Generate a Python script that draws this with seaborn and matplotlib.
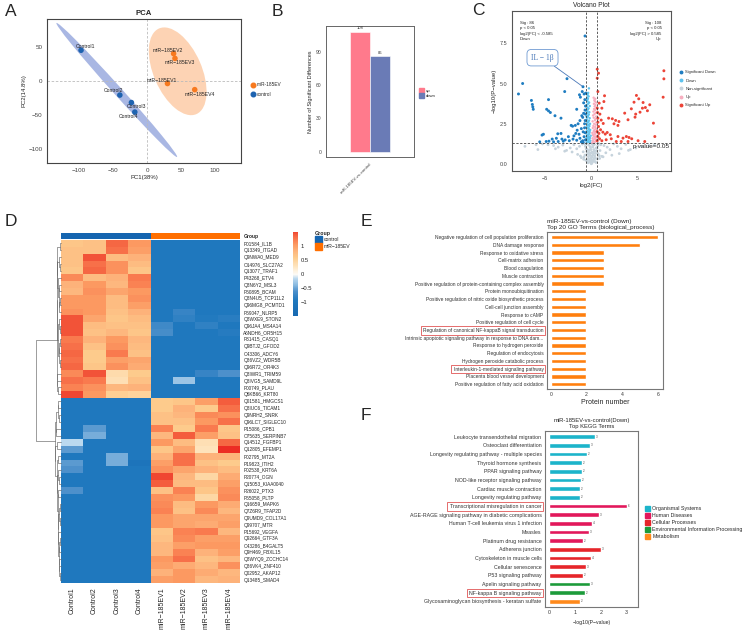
import numpy as np
import pandas as pd
import matplotlib
matplotlib.use('Agg')
import matplotlib.pyplot as plt
import seaborn as sns
from matplotlib.colors import LinearSegmentedColormap, ListedColormap
from matplotlib.patches import Ellipse, Patch, Rectangle
from matplotlib.lines import Line2D

sns.set_style('white')
plt.rcParams['font.family'] = ['Liberation Sans', 'DejaVu Sans']
plt.rcParams['axes.unicode_minus'] = True

# ---------------- DATA ----------------
# A: PCA
pca_samples = ['Control1', 'Control2', 'Control3', 'Control4',
               'miR−185EV1', 'miR−185EV2', 'miR−185EV3', 'miR−185EV4']
pca_group = ['control'] * 4 + ['miR-185EV'] * 4
pc1 = [-97, -40, -23, -18, 30, 39, 41, 70]
pc2 = [45, -21, -32, -46, -4, 40, 33, -13]

# B: number of significant differences
b_comparison = ['miR-185EV-vs-control', 'miR-185EV-vs-control']
b_type = ['up', 'down']
b_count = [108, 86]

# C: volcano
sig_down_pts = [(-0.70, 7.95), (-7.45, 5.00), (-7.90, 4.35), (-2.65, 5.30), (-2.90, 4.50),
                (-6.50, 3.95), (-6.40, 3.70), (-6.35, 3.55), (-6.30, 3.40), (-4.65, 4.00),
                (-4.85, 3.40), (-4.65, 3.30), (-4.45, 3.20), (-3.95, 3.00), (-3.30, 2.85),
                (-1.00, 4.50), (-1.30, 4.30), (-1.20, 4.15), (-0.80, 4.35),
                (-1.60, 3.40), (-2.20, 2.40), (-2.05, 2.35), (-1.75, 2.40), (-1.45, 2.50),
                (-1.25, 2.70), (-0.95, 2.90), (-0.85, 3.15), (-0.75, 2.50), (-1.10, 2.20),
                (-0.90, 2.00), (-1.55, 2.10), (-1.70, 1.90), (-1.35, 1.85), (-5.20, 1.85),
                (-5.35, 1.80), (-3.65, 1.88), (-3.30, 1.90), (-4.25, 1.55), (-3.80, 1.60),
                (-3.20, 1.55), (-2.85, 1.50), (-4.90, 1.40), (-4.60, 1.42), (-4.10, 1.38),
                (-3.60, 1.40), (-3.05, 1.42), (-2.40, 1.45), (-2.00, 1.55), (-1.60, 1.48),
                (-1.25, 1.60), (-0.95, 1.45), (-0.80, 1.70), (-0.70, 1.95), (-0.75, 2.25),
                (-2.50, 1.70), (-1.90, 1.75), (-5.60, 1.38), (-0.65, 3.60), (-0.72, 4.00),
                (-0.65, 1.50), (-0.68, 2.70), (-0.66, 3.10), (-0.90, 1.35), (-1.10, 1.38),
                (-0.62, 4.40), (-0.70, 3.35), (-0.85, 3.80), (-1.05, 3.00)]
il1b_pt = (-0.92, 4.80)
down_pts = [(-0.52, 1.35), (-0.31, 1.38), (-0.44, 1.42), (-0.12, 1.45), (-0.38, 1.50),
            (-0.25, 1.55), (-0.55, 1.58), (-0.18, 1.62), (-0.47, 1.68), (-0.33, 1.72),
            (-0.09, 1.76), (-0.41, 1.80), (-0.28, 1.86), (-0.56, 1.90), (-0.21, 1.95),
            (-0.36, 2.02), (-0.49, 2.08), (-0.14, 2.12), (-0.30, 2.18), (-0.43, 2.25),
            (-0.53, 2.30), (-0.23, 2.36), (-0.39, 2.42), (-0.16, 2.50), (-0.46, 2.56),
            (-0.34, 2.62), (-0.27, 2.70), (-0.51, 2.78), (-0.20, 2.85), (-0.42, 2.92),
            (-0.37, 3.00), (-0.29, 3.08), (-0.48, 3.15), (-0.24, 3.22), (-0.54, 3.30),
            (-0.40, 3.38), (-0.32, 3.45), (-0.45, 3.52), (-0.19, 3.60), (-0.50, 3.68),
            (-0.35, 3.75), (-0.26, 3.82), (-0.43, 3.90), (-0.52, 3.98), (-0.38, 4.05),
            (-0.47, 4.12), (-0.31, 4.20), (-0.41, 4.28), (-0.50, 4.35), (-0.36, 4.42),
            (-0.44, 1.47), (-0.22, 1.66), (-0.48, 1.98), (-0.27, 2.45), (-0.55, 2.95),
            (-0.15, 1.33), (-0.35, 1.60), (-0.50, 1.75), (-0.20, 2.05), (-0.40, 2.65),
            (-0.28, 4.70), (-0.45, 3.25), (-0.33, 2.25)]
up_pts = [(0.08, 1.33), (0.30, 1.36), (0.45, 1.40), (0.15, 1.44), (0.52, 1.48),
          (0.22, 1.52), (0.38, 1.56), (0.11, 1.60), (0.48, 1.65), (0.27, 1.70),
          (0.56, 1.74), (0.18, 1.79), (0.35, 1.84), (0.42, 1.90), (0.09, 1.94),
          (0.50, 2.00), (0.25, 2.06), (0.33, 2.12), (0.55, 2.18), (0.14, 2.24),
          (0.40, 2.30), (0.20, 2.37), (0.47, 2.44), (0.29, 2.50), (0.53, 2.58),
          (0.12, 2.65), (0.37, 2.72), (0.44, 2.80), (0.24, 2.88), (0.50, 2.95),
          (0.17, 3.02), (0.32, 3.10), (0.46, 3.18), (0.21, 3.26), (0.39, 3.35),
          (0.28, 3.42), (0.54, 3.50), (0.34, 3.58), (0.43, 3.66), (0.26, 3.74),
          (0.49, 3.82), (0.36, 3.90), (0.31, 3.97), (0.41, 4.05), (0.23, 4.12),
          (0.20, 1.40), (0.40, 1.70), (0.30, 2.00), (0.45, 2.20), (0.15, 1.85)]
sig_up_pts = [(0.62, 5.89), (0.76, 5.64), (0.62, 5.33), (7.83, 5.79), (7.83, 5.29),
              (7.75, 4.15), (1.41, 4.24), (1.34, 3.88), (4.86, 4.26), (5.11, 4.05),
              (4.60, 3.84), (5.58, 3.82), (5.83, 3.51), (5.51, 3.47), (5.25, 3.22),
              (4.78, 3.10), (4.71, 2.91), (6.30, 3.68), (6.05, 3.31), (4.31, 3.43),
              (3.59, 3.16), (3.95, 2.75), (6.70, 2.54), (1.85, 2.85), (2.25, 2.81),
              (2.61, 2.71), (2.97, 2.64), (2.43, 2.50), (2.86, 2.40), (1.12, 3.47),
              (0.91, 3.10), (1.05, 2.73), (1.27, 2.52), (0.76, 2.33), (0.98, 2.13),
              (1.23, 1.98), (1.49, 1.86), (1.70, 1.96), (2.03, 1.82), (0.69, 1.71),
              (0.87, 1.57), (1.12, 1.45), (1.59, 1.51), (2.14, 1.57), (2.86, 1.71),
              (3.41, 1.61), (3.77, 1.71), (4.06, 1.65), (4.35, 1.57), (3.22, 1.40),
              (3.95, 1.40), (5.04, 1.45), (6.85, 1.71), (0.62, 3.47), (0.69, 2.85),
              (0.62, 2.02), (0.62, 1.45), (0.83, 3.78), (2.68, 1.40), (5.76, 1.40),
              (0.69, 4.50), (0.70, 2.60), (0.66, 3.20), (0.80, 1.90)]
ns_pts = [(-0.02, 0.02), (0.04, 0.06), (-0.10, 0.10), (0.12, 0.14), (-0.18, 0.18),
          (0.20, 0.22), (0.00, 0.26), (-0.26, 0.30), (0.28, 0.34), (-0.08, 0.38),
          (0.10, 0.42), (-0.34, 0.46), (0.36, 0.50), (-0.16, 0.54), (0.18, 0.58),
          (-0.42, 0.62), (0.44, 0.66), (-0.04, 0.70), (0.06, 0.74), (-0.50, 0.78),
          (0.52, 0.82), (-0.24, 0.86), (0.26, 0.90), (-0.58, 0.94), (0.60, 0.98),
          (-0.12, 1.02), (0.14, 1.06), (-0.66, 1.10), (0.68, 1.14), (-0.30, 1.18),
          (0.32, 1.22), (-0.74, 1.26), (0.76, 1.28), (-0.06, 0.12), (0.08, 0.20),
          (-0.40, 0.28), (0.42, 0.36), (-0.82, 0.44), (0.84, 0.52), (-0.20, 0.60),
          (0.22, 0.68), (-0.90, 0.76), (0.92, 0.84), (-0.48, 0.92), (0.50, 1.00),
          (-0.14, 1.08), (0.16, 1.16), (-0.98, 1.24), (1.00, 1.20), (-0.36, 0.08),
          (0.38, 0.16), (-0.62, 0.24), (0.64, 0.32), (-1.10, 0.40), (1.12, 0.48),
          (-0.70, 0.56), (0.72, 0.64), (-0.28, 0.72), (0.30, 0.80), (-1.30, 1.10),
          (1.35, 1.15), (-1.60, 0.95), (1.70, 1.05), (-1.90, 1.20), (2.00, 0.90),
          (-2.30, 1.00), (2.40, 1.25), (-2.70, 0.85), (2.80, 1.10), (-3.10, 1.18),
          (3.20, 0.95), (-3.60, 1.05), (3.70, 1.22), (-4.10, 1.15), (4.20, 0.90),
          (-4.70, 1.20), (4.80, 1.00), (-5.30, 1.25), (5.40, 1.10), (-6.00, 1.20),
          (6.20, 1.15), (-1.50, 0.60), (1.55, 0.70), (-2.10, 0.75), (2.20, 0.55),
          (-2.90, 0.80), (3.00, 0.65), (-3.90, 0.95), (4.00, 0.85), (-1.20, 0.50),
          (1.25, 0.45), (-0.85, 0.30), (0.88, 0.35), (-5.80, 0.90), (6.80, 1.20),
          (-7.20, 1.10), (0.02, 0.50), (-0.05, 0.90), (0.05, 1.25), (-0.45, 0.15),
          (0.48, 0.10)]

# D: heatmap (row-scaled expression)
hm_samples = ['Control1', 'Control2', 'Control3', 'Control4',
              'miR−185EV1', 'miR−185EV2', 'miR−185EV3', 'miR−185EV4']
hm_group = ['control'] * 4 + ['miR−185EV'] * 4
hm_proteins = ['P01584_IL1B', 'Q13349_ITGAD', 'Q9NWA0_MED9', 'O14976_SLC27A2', 'Q13077_TRAF1',
               'P43268_ETV4', 'Q8N6Y2_MSL3', 'P50895_BCAM', 'Q8N4U5_TCP11L2', 'Q96MG8_PCMTD1',
               'P59047_NLRP5', 'Q8WXE9_STON2', 'Q96JA4_MS4A14', 'A6NDH6_OR5H15', 'P31415_CASQ1',
               'Q9BTJ2_GFOD2', 'O43306_ADCY6', 'Q86VZ2_WDR5B', 'Q96R72_OR4K3', 'Q8IWR1_TRIM59',
               'Q8IVG5_SAMD9L', 'P00749_PLAU', 'Q6KB66_KRT80', 'Q01581_HMGCS1', 'Q8IUC6_TICAM1',
               'Q9NRH2_SNRK', 'Q96LC7_SIGLEC10', 'P15086_CPB1', 'O75635_SERPINB7', 'Q14512_FGFBP1',
               'Q12805_EFEMP1', 'P02795_MT2A', 'P19823_ITIH2', 'P02538_KRT6A', 'P20774_OGN',
               'Q15053_KIAA0040', 'P26022_PTX3', 'P55058_PLTP', 'Q16659_MAPK6', 'Q7Z6R9_TFAP2D',
               'Q9UMD9_COL17A1', 'Q99707_MTR', 'P15692_VEGFA', 'Q92664_GTF3A', 'O43286_B4GALT5',
               'Q9H469_FBXL15', 'Q8WYQ9_ZCCHC14', 'Q86VK4_ZNF410', 'Q02952_AKAP12', 'Q13485_SMAD4']
L = -0.93
hm_values = [
    [0.65, 0.70, 1.35, 1.05, L, L, L, L],
    [0.70, 0.70, 1.30, 1.00, L, L, L, L],
    [0.70, 1.45, 0.75, 0.85, L, L, L, L],
    [0.70, 1.30, 1.10, 0.75, L, L, L, L],
    [0.65, 1.35, 1.10, 0.65, L, L, L, L],
    [1.15, 0.75, 0.85, 1.25, L, L, L, L],
    [0.85, 1.05, 0.80, 1.20, L, L, L, L],
    [0.80, 1.10, 0.95, 1.05, L, L, L, L],
    [1.05, 1.05, 0.75, 1.10, L, L, L, L],
    [1.05, 1.05, 0.75, 1.00, L, L, L, L],
    [1.10, 1.05, 0.70, 0.85, L, -0.75, L, L],
    [1.45, 0.95, 0.65, 0.75, L, -0.80, -0.90, -0.85],
    [1.45, 0.75, 0.70, 0.70, -0.70, L, -0.80, L],
    [1.45, 0.70, 0.80, 0.65, -0.65, L, L, -0.88],
    [1.25, 0.85, 1.05, 0.80, L, L, L, L],
    [1.30, 0.70, 1.10, 0.75, L, L, L, L],
    [1.35, 0.60, 1.25, 0.70, L, L, L, L],
    [1.30, 0.60, 1.00, 0.95, L, L, L, L],
    [1.35, 0.65, 1.10, 0.90, L, L, L, L],
    [1.15, 1.45, 0.40, 0.60, L, L, -0.75, -0.60],
    [1.30, 1.25, 0.35, 0.70, L, -0.30, L, L],
    [1.20, 1.10, 0.80, 0.85, L, L, L, L],
    [1.50, 1.05, 0.55, 0.50, L, L, L, L],
    [L, L, L, L, 0.60, 0.65, 1.00, 1.40],
    [L, L, L, L, 0.60, 0.85, 0.60, 1.30],
    [L, L, L, L, 0.70, 0.80, 1.15, 1.10],
    [L, L, L, L, 0.70, 0.70, 1.05, 1.30],
    [L, -0.55, L, L, 1.20, 0.60, 1.25, 0.65],
    [L, -0.45, L, L, 0.80, 1.40, 1.00, 0.70],
    [-0.15, L, L, L, 1.05, 0.75, 0.35, 1.35],
    [-0.55, L, L, L, 0.65, 0.95, 0.30, 1.60],
    [L, L, -0.45, L, 0.85, 1.30, 0.85, 0.85],
    [-0.55, L, -0.45, -1.05, 1.00, 1.30, 0.70, 0.60],
    [-0.60, L, L, L, 1.10, 0.95, 0.85, 0.75],
    [L, L, L, L, 1.50, 0.80, 0.45, 0.90],
    [L, L, L, L, 1.40, 0.75, 0.75, 1.00],
    [-0.60, L, L, L, 0.70, 1.20, 0.65, 1.10],
    [L, L, L, L, 1.10, 1.05, 0.45, 1.15],
    [L, L, L, L, 1.15, 0.75, 1.05, 0.90],
    [L, L, L, L, 1.20, 0.70, 1.15, 0.80],
    [L, L, L, L, 1.05, 0.95, 0.95, 0.95],
    [L, L, L, L, 1.05, 0.95, 0.90, 1.00],
    [L, L, L, L, 0.65, 1.20, 1.25, 0.80],
    [L, L, L, L, 0.70, 1.15, 1.00, 1.00],
    [L, L, L, L, 0.80, 1.00, 1.05, 1.05],
    [L, L, L, L, 0.80, 1.20, 0.85, 1.00],
    [L, L, L, L, 1.05, 1.30, 0.70, 0.80],
    [L, L, L, L, 1.00, 0.90, 0.80, 1.10],
    [L, L, L, L, 0.85, 1.05, 0.90, 0.80],
    [L, L, L, L, 1.00, 1.05, 0.80, 0.85],
]

# E: GO terms
go_terms = ['Negative regulation of cell population proliferation', 'DNA damage response',
            'Response to oxidative stress', 'Cell-matrix adhesion', 'Blood coagulation',
            'Muscle contraction', 'Positive regulation of protein-containing complex assembly',
            'Protein monoubiquitination', 'Positive regulation of nitric oxide biosynthetic process',
            'Cell-cell junction assembly', 'Response to cAMP', 'Positive regulation of cell cycle',
            'Regulation of canonical NF-kappaB signal transduction',
            'Intrinsic apoptotic signaling pathway in response to DNA dam...',
            'Response to hydrogen peroxide', 'Regulation of endocytosis',
            'Hydrogen peroxide catabolic process', 'Interleukin-1-mediated signaling pathway',
            'Placenta blood vessel development', 'Positive regulation of fatty acid oxidation']
go_counts = [6, 5, 3, 3, 3, 3, 3, 2, 2, 2, 2, 2, 2, 2, 2, 2, 2, 2, 2, 2]
go_highlight = ['Regulation of canonical NF-kappaB signal transduction',
                'Interleukin-1-mediated signaling pathway']

# F: KEGG terms
kegg_terms = ['Leukocyte transendothelial migration', 'Osteoclast differentiation',
              'Longevity regulating pathway - multiple species', 'Thyroid hormone synthesis',
              'PPAR signaling pathway', 'NOD-like receptor signaling pathway',
              'Cardiac muscle contraction', 'Longevity regulating pathway',
              'Transcriptional misregulation in cancer',
              'AGE-RAGE signaling pathway in diabetic complications',
              'Human T-cell leukemia virus 1 infection', 'Measles', 'Platinum drug resistance',
              'Adherens junction', 'Cytoskeleton in muscle cells', 'Cellular senescence',
              'P53 signaling pathway', 'Apelin signaling pathway', 'NF-kappa B signaling pathway',
              'Glycosaminoglycan biosynthesis - keratan sulfate']
kegg_values = [1.76, 1.57, 1.47, 1.27, 1.27, 1.22, 1.19, 1.19, 3.01, 1.93, 1.67, 1.55, 1.29,
               2.02, 1.63, 1.42, 1.29, 1.57, 1.38, 1.19]
kegg_counts = [3, 3, 2, 2, 2, 2, 2, 2, 6, 3, 4, 3, 2, 3, 4, 3, 2, 3, 2, 2]
kegg_class = ['Organismal Systems'] * 8 + ['Human Diseases'] * 5 + ['Cellular Processes'] * 4 + \
             ['Environmental Information Processing'] * 2 + ['Metabolism']
kegg_class_order = ['Organismal Systems', 'Human Diseases', 'Cellular Processes',
                    'Environmental Information Processing', 'Metabolism']
kegg_highlight = ['Transcriptional misregulation in cancer', 'NF-kappa B signaling pathway']

# ---------------- STYLE ----------------
W, H = 749, 630
fig = plt.figure(figsize=(W / 100, H / 100), dpi=100)


def add_ax(l, t, r, b):
    return fig.add_axes([l / W, 1 - b / H, (r - l) / W, (b - t) / H])


def ftext(x, y, s, **kw):
    return fig.text(x / W, 1 - y / H, s, **kw)


def frame(ax, color='#444444', lw=0.8):
    for sp in ax.spines.values():
        sp.set_visible(True)
        sp.set_color(color)
        sp.set_linewidth(lw)


for letter, (lx, ly) in {'A': (5, 4), 'B': (272, 4), 'C': (472, 3), 'D': (5, 214),
                         'E': (361, 214), 'F': (361, 408)}.items():
    ftext(lx, ly, letter, fontsize=12.5, va='top', ha='left')

# ---------------- A: PCA ----------------
col_ctrl, col_ev = '#1E63B0', '#F7791F'
axA = add_ax(47, 19, 241, 163)
pca_df = pd.DataFrame({'PC1': pc1, 'PC2': pc2, 'group': pca_group, 'sample': pca_samples})
ell_cols = {'control': '#A2B1E1', 'miR-185EV': '#FDD0AE'}
for g, sub in pca_df.groupby('group'):
    cov = np.cov(sub['PC1'], sub['PC2'])
    vals, vecs = np.linalg.eigh(cov)
    order = vals.argsort()[::-1]
    vals, vecs = vals[order], vecs[:, order]
    ang = np.degrees(np.arctan2(vecs[1, 0], vecs[0, 0]))
    k = np.sqrt(5.991)
    axA.add_patch(Ellipse((sub['PC1'].mean(), sub['PC2'].mean()), 2 * k * np.sqrt(vals[0]),
                          2 * k * np.sqrt(vals[1]), angle=ang, facecolor=ell_cols[g],
                          edgecolor='none', alpha=0.92, zorder=1))
axA.axhline(0, color='#BBBBBB', lw=0.6, ls=(0, (3, 2)), zorder=2)
axA.axvline(0, color='#BBBBBB', lw=0.6, ls=(0, (3, 2)), zorder=2)
sns.scatterplot(data=pca_df, x='PC1', y='PC2', hue='group',
                palette={'control': col_ctrl, 'miR-185EV': col_ev}, s=16, edgecolor='none',
                legend=False, ax=axA, zorder=3)
label_offsets = {'Control1': (6.5, 5), 'Control2': (-9, 6), 'Control3': (7, -6),
                 'Control4': (-9, -7), 'miR−185EV1': (-9, 5), 'miR−185EV2': (-8, 5),
                 'miR−185EV3': (7, -6), 'miR−185EV4': (7, -7)}
for s, x, y in zip(pca_samples, pc1, pc2):
    dx, dy = label_offsets[s]
    axA.text(x + dx, y + dy, s, fontsize=3.7, ha='center', va='center', color='#222222', zorder=4)
axA.set_xlim(-147, 138)
axA.set_ylim(-121, 91)
axA.set_xticks([-100, -50, 0, 50, 100])
axA.set_yticks([-100, -50, 0, 50])
axA.tick_params(labelsize=4.5, length=1.8, width=0.5, pad=1.5, colors='#444444')
axA.set_xlabel('PC1(38%)', fontsize=4.3, labelpad=1.5)
axA.set_ylabel('PC2(14.8%)', fontsize=4.3, labelpad=1.5)
axA.set_title('PCA', fontsize=5.6, pad=3, fontweight='semibold')
frame(axA)
axA.legend(handles=[Line2D([], [], marker='o', ls='none', color=col_ev, markersize=3.3),
                    Line2D([], [], marker='o', ls='none', color=col_ctrl, markersize=3.3)],
           labels=['miR-185EV', 'control'], loc='upper left',
           bbox_to_anchor=(251 / W, 1 - 82.5 / H), bbox_transform=fig.transFigure,
           frameon=False, fontsize=3.4, handlelength=0.7, handletextpad=0.5,
           labelspacing=0.85, borderpad=0, borderaxespad=0)

# ---------------- B: bars ----------------
axB = add_ax(326, 26, 414, 157)
b_df = pd.DataFrame({'comparison': b_comparison, 'type': b_type, 'count': b_count})
sns.barplot(data=b_df, x='comparison', y='count', hue='type', hue_order=['up', 'down'],
            palette={'up': '#FF7A8C', 'down': '#6A7BB6'}, saturation=1, width=0.9,
            edgecolor='white', linewidth=0.4, legend=False, ax=axB)
for c in axB.containers:
    axB.bar_label(c, fontsize=3.0, padding=1, color='#333333')
axB.set_xlim(-1, 1)
axB.set_ylim(-4.8, 113)
axB.set_yticks([0, 30, 60, 90])
axB.tick_params(labelsize=3.6, length=1.8, width=0.5, pad=1.5, colors='#444444')
axB.set_xticks([0])
axB.set_xticklabels(['miR-185EV-vs-control'], rotation=45, ha='right', fontsize=3.2,
                    rotation_mode='anchor')
axB.set_xlabel('')
axB.set_ylabel('Number of Significant Differences', fontsize=4.0, labelpad=2)
frame(axB, '#666666', 0.7)
axB.legend(handles=[Patch(color='#FF7A8C'), Patch(color='#6A7BB6')], labels=['up', 'down'],
           loc='upper left', bbox_to_anchor=(418.5 / W, 1 - 88.5 / H),
           bbox_transform=fig.transFigure, frameon=False, fontsize=3.1, handlelength=1.2,
           handleheight=1.1, handletextpad=0.4, labelspacing=0.1, borderpad=0, borderaxespad=0)

# ---------------- C: volcano ----------------
axC = add_ax(512, 11, 671, 171)
vol_rows = []
for name, pts in [('Non-significant', ns_pts), ('Down', down_pts), ('Up', up_pts),
                  ('Significant Down', sig_down_pts + [il1b_pt]),
                  ('Significant Up', sig_up_pts)]:
    for x, y in pts:
        vol_rows.append((x, y, name))
vol_df = pd.DataFrame(vol_rows, columns=['log2FC', 'nlogp', 'class'])
vol_pal = {'Significant Down': '#1F7DC1', 'Down': '#5EC3EE', 'Non-significant': '#C6D3DC',
           'Up': '#F7AFC0', 'Significant Up': '#EC4437'}
vol_sizes = {'Significant Down': 4.5, 'Down': 3.0, 'Non-significant': 4.0, 'Up': 3.0,
             'Significant Up': 4.5}
for cls in ['Non-significant', 'Down', 'Up', 'Significant Down', 'Significant Up']:
    sns.scatterplot(data=vol_df[vol_df['class'] == cls], x='log2FC', y='nlogp',
                    color=vol_pal[cls], s=vol_sizes[cls], edgecolor='none', legend=False, ax=axC)
for xv in (-0.585, 0.585):
    axC.axvline(xv, color='#333333', lw=0.55, ls=(0, (3, 2)))
axC.axhline(-np.log10(0.05), color='#333333', lw=0.55, ls=(0, (3, 2)))
axC.set_xlim(-8.6, 8.6)
axC.set_ylim(-0.43, 9.5)
axC.set_xticks([-5, 0, 5])
axC.set_yticks([0, 2.5, 5, 7.5])
axC.set_yticklabels(['0.0', '2.5', '5.0', '7.5'])
axC.tick_params(labelsize=4.0, length=1.8, width=0.5, pad=1.5, colors='#444444')
axC.set_xlabel('log2(FC)', fontsize=4.3, labelpad=2)
axC.set_ylabel('−log10(P−value)', fontsize=4.3, labelpad=2)
axC.set_title('Volcano Plot', fontsize=4.8, pad=3)
frame(axC, '#555555', 0.8)
axC.text(0.048, 0.937, 'Sig : 86\np < 0.05\nlog2(FC) < -0.585\nDown', transform=axC.transAxes,
         fontsize=3.1, va='top', ha='left', linespacing=1.45, color='#222222')
axC.text(0.941, 0.937, 'Sig : 108\np < 0.05\nlog2(FC) > 0.585\nUp', transform=axC.transAxes,
         fontsize=3.1, va='top', ha='right', multialignment='right', linespacing=1.45,
         color='#222222')
axC.text(4.45, 1.12, 'p-value=0.05', fontsize=4.6, ha='left', va='center', color='#222222')
axC.annotate('IL − 1β', xy=il1b_pt, xytext=(-5.3, 6.6), fontsize=5.5,
             family=['Liberation Serif', 'DejaVu Serif'], color='#4A78B8', ha='center',
             va='center',
             bbox=dict(boxstyle='round,pad=0.55', fc='white', ec='#6E9AD2', lw=0.6),
             arrowprops=dict(arrowstyle='-', color='#4A78B8', lw=0.6, shrinkA=0, shrinkB=1))
vol_order = ['Significant Down', 'Down', 'Non-significant', 'Up', 'Significant Up']
axC.legend(handles=[Line2D([], [], marker='o', ls='none', color=vol_pal[c], markersize=1.8)
                    for c in vol_order], labels=vol_order, loc='upper left',
           bbox_to_anchor=(679.5 / W, 1 - 70.5 / H), bbox_transform=fig.transFigure,
           frameon=False, fontsize=3.0, handlelength=0.8, handletextpad=0.6,
           labelspacing=1.0, borderpad=0, borderaxespad=0)

# ---------------- D: heatmap ----------------
hm_df = pd.DataFrame(hm_values, index=hm_proteins, columns=hm_samples)
cmap = LinearSegmentedColormap.from_list('hm', [
    (0.0, '#1868B0'), ((-0.93 + 1.5) / 3.15, '#1F78BE'), ((-0.6 + 1.5) / 3.15, '#4D90CB'),
    ((-0.4 + 1.5) / 3.15, '#85B7DF'), ((-0.15 + 1.5) / 3.15, '#BCD9EF'),
    ((0.0 + 1.5) / 3.15, '#FDFBF6'), ((0.3 + 1.5) / 3.15, '#FEE3BC'),
    ((0.6 + 1.5) / 3.15, '#FDCB8C'), ((0.85 + 1.5) / 3.15, '#FDB27A'),
    ((1.05 + 1.5) / 3.15, '#FC9A62'), ((1.25 + 1.5) / 3.15, '#F97B4F'),
    ((1.45 + 1.5) / 3.15, '#F25438'), (1.0, '#EA1E1E')])
axH = add_ax(61, 240, 240, 583)
axCB = add_ax(293, 232, 298, 316)
sns.heatmap(hm_df, ax=axH, cmap=cmap, vmin=-1.5, vmax=1.65, cbar_ax=axCB,
            linewidths=0, xticklabels=True, yticklabels=True)
axH.yaxis.tick_right()
axH.set_yticklabels(hm_proteins, rotation=0, fontsize=3.45)
axH.set_xticklabels(hm_samples, rotation=90, fontsize=5.0)
axH.tick_params(axis='y', length=0, pad=2.5)
axH.tick_params(axis='x', length=0, pad=3)
axH.set_xlabel('')
axH.set_ylabel('')
cb = axH.collections[0].colorbar
cb.outline.set_visible(False)
cb.set_ticks([-1, -0.5, 0, 0.5, 1])
cb.set_ticklabels(['−1', '−0.5', '0', '0.5', '1'])
axCB.set_ylim(-1.48, 1.5)
axCB.tick_params(length=0, labelsize=4.2, pad=2)

axAnn = add_ax(61, 233, 240, 239.3)
ann_df = pd.DataFrame([[0 if g == 'control' else 1 for g in hm_group]], index=['Group'],
                      columns=hm_samples)
sns.heatmap(ann_df, ax=axAnn, cmap=ListedColormap(['#1565B0', '#FF6F00']), vmin=0, vmax=1,
            cbar=False, linewidths=0, xticklabels=False, yticklabels=True)
axAnn.yaxis.tick_right()
axAnn.set_yticklabels(['Group'], rotation=0, fontsize=3.6, fontweight='bold')
axAnn.tick_params(axis='y', length=0, pad=2.5)
axAnn.set_ylabel('')

axHL = fig.add_axes([1, 1, 0.01, 0.01])
axHL.axis('off')
axHL.legend(handles=[Patch(color='#1565B0'), Patch(color='#FF6F00')],
            labels=['control', 'miR−185EV'], title='Group', loc='upper left',
            bbox_to_anchor=(314.5 / W, 1 - 231 / H), bbox_transform=fig.transFigure,
            frameon=False, fontsize=3.6, title_fontproperties={'weight': 'bold', 'size': 3.8},
            handlelength=1.5, handleheight=1.75, handletextpad=0.35, labelspacing=0.0,
            borderpad=0, borderaxespad=0, alignment='left')

# row dendrogram (order-preserving average linkage)
M = np.array(hm_values)
clusters = [[i] for i in range(len(M))]
pos = [i + 0.5 for i in range(len(M))]
hts = [0.0] * len(M)
segs = []
while len(clusters) > 1:
    best = None
    for i in range(len(clusters) - 1):
        a, b = M[clusters[i]], M[clusters[i + 1]]
        d = np.sqrt(((a[:, None, :] - b[None, :, :]) ** 2).sum(-1)).mean()
        if best is None or d < best[0]:
            best = (d, i)
    d, i = best
    d = max(d, hts[i], hts[i + 1])
    segs.append(([hts[i], d, d, hts[i + 1]], [pos[i], pos[i], pos[i + 1], pos[i + 1]]))
    clusters[i] = clusters[i] + clusters[i + 1]
    del clusters[i + 1]
    pos[i] = (pos[i] + pos[i + 1]) / 2
    del pos[i + 1]
    hts[i] = d
    del hts[i + 1]
axD = add_ax(36, 240, 60.5, 583)
for xs, ys in segs:
    axD.plot(xs, ys, color='#666666', lw=0.45, clip_on=False)
axD.set_xlim(hts[0], 0)
axD.set_ylim(len(M), 0)
axD.axis('off')

# ---------------- E: GO ----------------
axE = add_ax(547, 232, 663, 389)
go_df = pd.DataFrame({'term': go_terms, 'count': go_counts})
sns.barplot(data=go_df, x='count', y='term', orient='h', color='#FF7F0E', saturation=1,
            width=0.55, ax=axE)
axE.set_xlim(-0.22, 6.3)
axE.set_ylim(19.62, -0.66)
axE.set_xticks([0, 2, 4, 6])
axE.tick_params(axis='y', labelsize=3.55, length=1.5, width=0.5, pad=1, colors='#333333')
axE.tick_params(axis='x', labelsize=3.6, length=1.5, width=0.5, pad=1, colors='#333333')
axE.set_ylabel('')
axE.set_xlabel('Protein number', fontsize=5.0, labelpad=1)
axE.set_title('miR-185EV-vs-control (Down)\nTop 20 GO Terms (biological_process)',
              fontsize=4.6, loc='left', pad=2.5, linespacing=1.15)
frame(axE, '#777777', 0.8)

# ---------------- F: KEGG ----------------
axF = add_ax(545, 431, 638, 607)
kegg_pal = {'Organismal Systems': '#1CB4CA', 'Human Diseases': '#E2185B',
            'Cellular Processes': '#E6252A', 'Environmental Information Processing': '#1C9B3A',
            'Metabolism': '#FF8A1C'}
kegg_df = pd.DataFrame({'term': kegg_terms, 'value': kegg_values, 'class': kegg_class,
                        'count': kegg_counts})
sns.barplot(data=kegg_df, x='value', y='term', hue='class', hue_order=kegg_class_order,
            palette=kegg_pal, dodge=False, orient='h', saturation=1, width=0.55,
            legend=False, ax=axF)
for i, (v, c) in enumerate(zip(kegg_values, kegg_counts)):
    axF.text(v + 0.03, i, str(c), fontsize=2.2, va='center', ha='left', color='#444444')
axF.set_xlim(-0.17, 3.44)
axF.set_ylim(19.66, -0.66)
axF.set_xticks([0, 1, 2, 3])
axF.tick_params(axis='y', labelsize=3.75, length=1.5, width=0.5, pad=1, colors='#333333')
axF.tick_params(axis='x', labelsize=3.8, length=1.5, width=0.5, pad=1, colors='#333333')
axF.set_ylabel('')
axF.set_xlabel('−log10(P−value)', fontsize=3.7, labelpad=3)
axF.set_title('miR-185EV-vs-control(Down)\nTop KEGG Terms', fontsize=4.2, pad=2.5,
              linespacing=1.2)
frame(axF, '#777777', 0.8)
axF.legend(handles=[Patch(color=kegg_pal[c]) for c in kegg_class_order],
           labels=kegg_class_order, loc='upper left',
           bbox_to_anchor=(644.5 / W, 1 - 505.5 / H), bbox_transform=fig.transFigure,
           frameon=False, fontsize=3.8, handlelength=1.0, handleheight=1.25,
           handletextpad=0.45, labelspacing=0.28, borderpad=0, borderaxespad=0)

# red highlight boxes around selected tick labels
fig.canvas.draw()
rend = fig.canvas.get_renderer()
fw, fh = fig.bbox.width, fig.bbox.height
for ax, names in [(axE, go_highlight), (axF, kegg_highlight)]:
    axleft = ax.get_window_extent(rend).x0
    for lab in ax.get_yticklabels():
        if lab.get_text() in names:
            bb = lab.get_window_extent(rend)
            x0, x1 = bb.x0 - 2.5, axleft - 2.5
            y0, y1 = bb.y0 - 1.6, bb.y1 + 1.6
            fig.add_artist(Rectangle((x0 / fw, y0 / fh), (x1 - x0) / fw, (y1 - y0) / fh,
                                     transform=fig.transFigure, fill=False,
                                     edgecolor='#E05555', lw=0.6))

fig.savefig('out.png', dpi=100)
